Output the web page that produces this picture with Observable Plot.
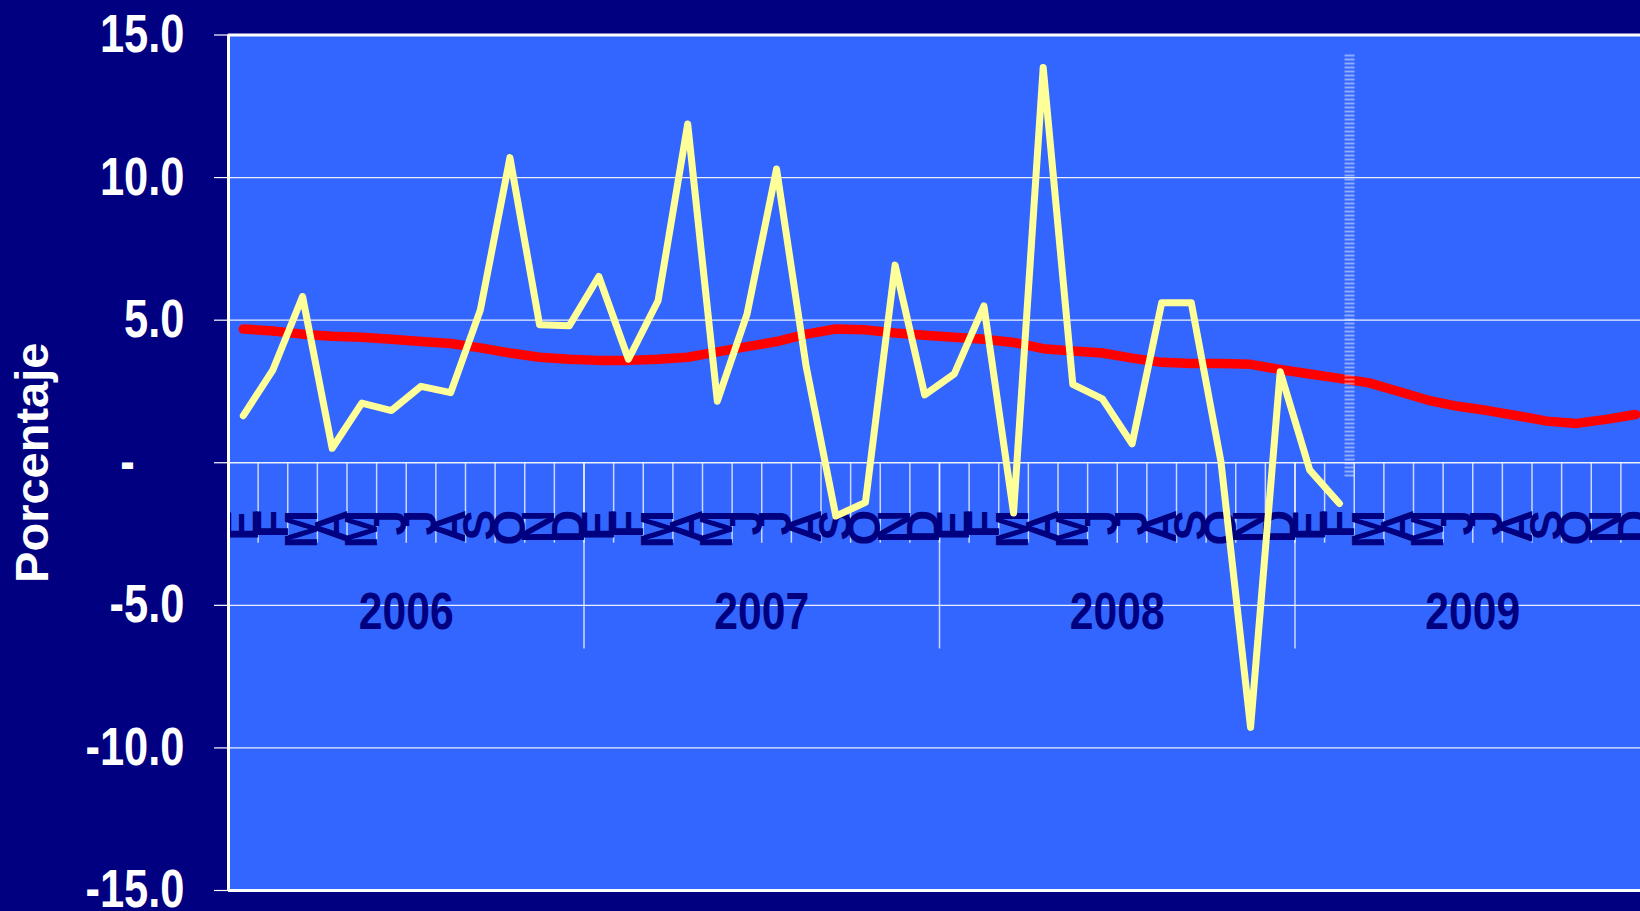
<!DOCTYPE html>
<html>
<head>
<meta charset="utf-8">
<script src="https://cdn.jsdelivr.net/npm/d3@7"></script>
<script src="https://cdn.jsdelivr.net/npm/@observablehq/plot@0.6"></script>
<style>
html, body { margin: 0; padding: 0; background: #000080; overflow: hidden; }
#chart { width: 1640px; height: 911px; }
</style>
</head>
<body>
<div id="chart"></div>
<script>
// ---- data ----
const months = ["E","F","M","A","M","J","J","A","S","O","N","D"];
const years = ["2006","2007","2008","2009"];
// monthly series (yellow), Jan 2006 - Feb 2009
const mensual = [1.65,3.26,5.83,0.51,2.09,1.83,2.68,2.46,5.35,10.7,4.84,4.80,
                 6.53,3.63,5.68,11.88,2.16,5.20,10.3,3.37,-1.87,-1.39,6.93,2.38,
                 3.12,5.50,-1.76,13.86,2.75,2.24,0.66,5.61,5.61,0.04,-9.28,3.19,
                 -0.26,-1.43];
// trend series (red), Jan 2006 - Dec 2009
const interanual = [4.69,4.62,4.51,4.44,4.40,4.33,4.25,4.18,4.03,3.85,3.70,3.63,
                    3.59,3.59,3.63,3.70,3.89,4.07,4.25,4.51,4.69,4.66,4.55,4.47,
                    4.40,4.33,4.22,4.00,3.92,3.85,3.67,3.52,3.48,3.48,3.45,3.27,
                    3.11,2.96,2.80,2.50,2.19,1.98,1.83,1.65,1.46,1.38,1.52,1.69];
const yTicks = [-15,-10,-5,0,5,10,15];
const yGrid = [-10,-5,0,5,10];
const projectionMonth = 37.84; // position (in months from Jan 2006) of the forecast marker
const projectionRange = [14.3, -0.5];

// ---- derived tables ----
const mensualData = mensual.map((v, i) => ({t: i + 0.5, v}));
const interanualData = interanual.map((v, i) => ({t: i + 0.5, v}));
const monthLabels = years.flatMap((y, yi) => months.map((m, mi) => ({t: yi * 12 + mi + 0.5, m})));
const monthBounds = d3.range(1, years.length * months.length);
const yearBounds = d3.range(1, years.length).map(i => i * 12);
const yearLabels = years.map((y, i) => ({t: i * 12 + 6, y}));

const FONT = "Arial, 'Liberation Sans', sans-serif";
const NAVY = "#000080";

const chart = Plot.plot({
  width: 1640,
  height: 911,
  marginLeft: 228,
  marginRight: -10,
  marginTop: 34.5,
  marginBottom: 21,
  style: {background: NAVY, overflow: "hidden", fontFamily: FONT},
  x: {domain: [0, years.length * months.length], axis: null},
  y: {domain: [-15, 15], axis: null},
  marks: [
    Plot.frame({fill: "#3366FF", stroke: null}),
    Plot.ruleY(yGrid, {stroke: "white", strokeWidth: 1.3, strokeOpacity: 0.9}),
    Plot.ruleX(monthBounds, {y1: () => 0, y2: () => -2.82, stroke: "white", strokeWidth: 1.5, strokeOpacity: 0.75}),
    Plot.ruleX(yearBounds, {y1: () => 0, y2: () => -6.53, stroke: "white", strokeWidth: 1.5, strokeOpacity: 0.75}),
    Plot.text(monthLabels, {x: "t", y: () => -1.65, text: "m", rotate: -90, textAnchor: "end", lineAnchor: "middle",
      fontSize: 46, fontWeight: "bold", fill: NAVY, fontFamily: FONT}),
    Plot.text(yearLabels, {x: "t", y: () => -5.25, text: "y", lineAnchor: "middle",
      fontSize: 52, fontWeight: "bold", fill: NAVY, fontFamily: FONT}),
    Plot.line(interanualData, {x: "t", y: "v", stroke: "#FF0000", strokeWidth: 9.5, strokeLinejoin: "round", strokeLinecap: "round"}),
    Plot.line(mensualData, {x: "t", y: "v", stroke: "#FFFF99", strokeWidth: 7, strokeLinejoin: "round", strokeLinecap: "round"}),
    Plot.ruleX([projectionMonth], {x: d => d, y1: () => projectionRange[0], y2: () => projectionRange[1],
      stroke: "white", strokeOpacity: 0.45, strokeWidth: 10, strokeDasharray: "2,2"}),
    Plot.ruleY([15, -15], {stroke: "white", strokeWidth: 3}),
    Plot.ruleX([0], {stroke: "white", strokeWidth: 3}),
    Plot.axisY(yTicks, {tickSize: 14, tickPadding: 30, tickFormat: d => d === 0 ? "" : d.toFixed(1),
      color: "white", fontSize: 53, fontWeight: "bold", fontFamily: FONT, label: null, strokeWidth: 1.2}),
    Plot.text([0], {y: d => d, text: () => "-", frameAnchor: "left", dx: -101, textAnchor: "middle", lineAnchor: "middle",
      fontSize: 53, fontWeight: "bold", fill: "white", fontFamily: FONT}),
    Plot.text(["Porcentaje"], {frameAnchor: "left", dx: -196, rotate: -90, textAnchor: "middle", lineAnchor: "middle",
      fontSize: 47, fontWeight: "bold", fill: "white", fontFamily: FONT})
  ]
});

// narrow the numeric labels (the original uses a condensed bold face)
chart.querySelectorAll("text").forEach(t => {
  const tr = t.getAttribute("transform") || "";
  if (tr.includes("rotate")) return;
  const x = +t.getAttribute("x") || 0, y = +t.getAttribute("y") || 0;
  t.setAttribute("transform", `${tr} translate(${x},${y}) scale(0.82,1) translate(${-x},${-y})`);
});

document.getElementById("chart").appendChild(chart);
</script>
</body>
</html>
